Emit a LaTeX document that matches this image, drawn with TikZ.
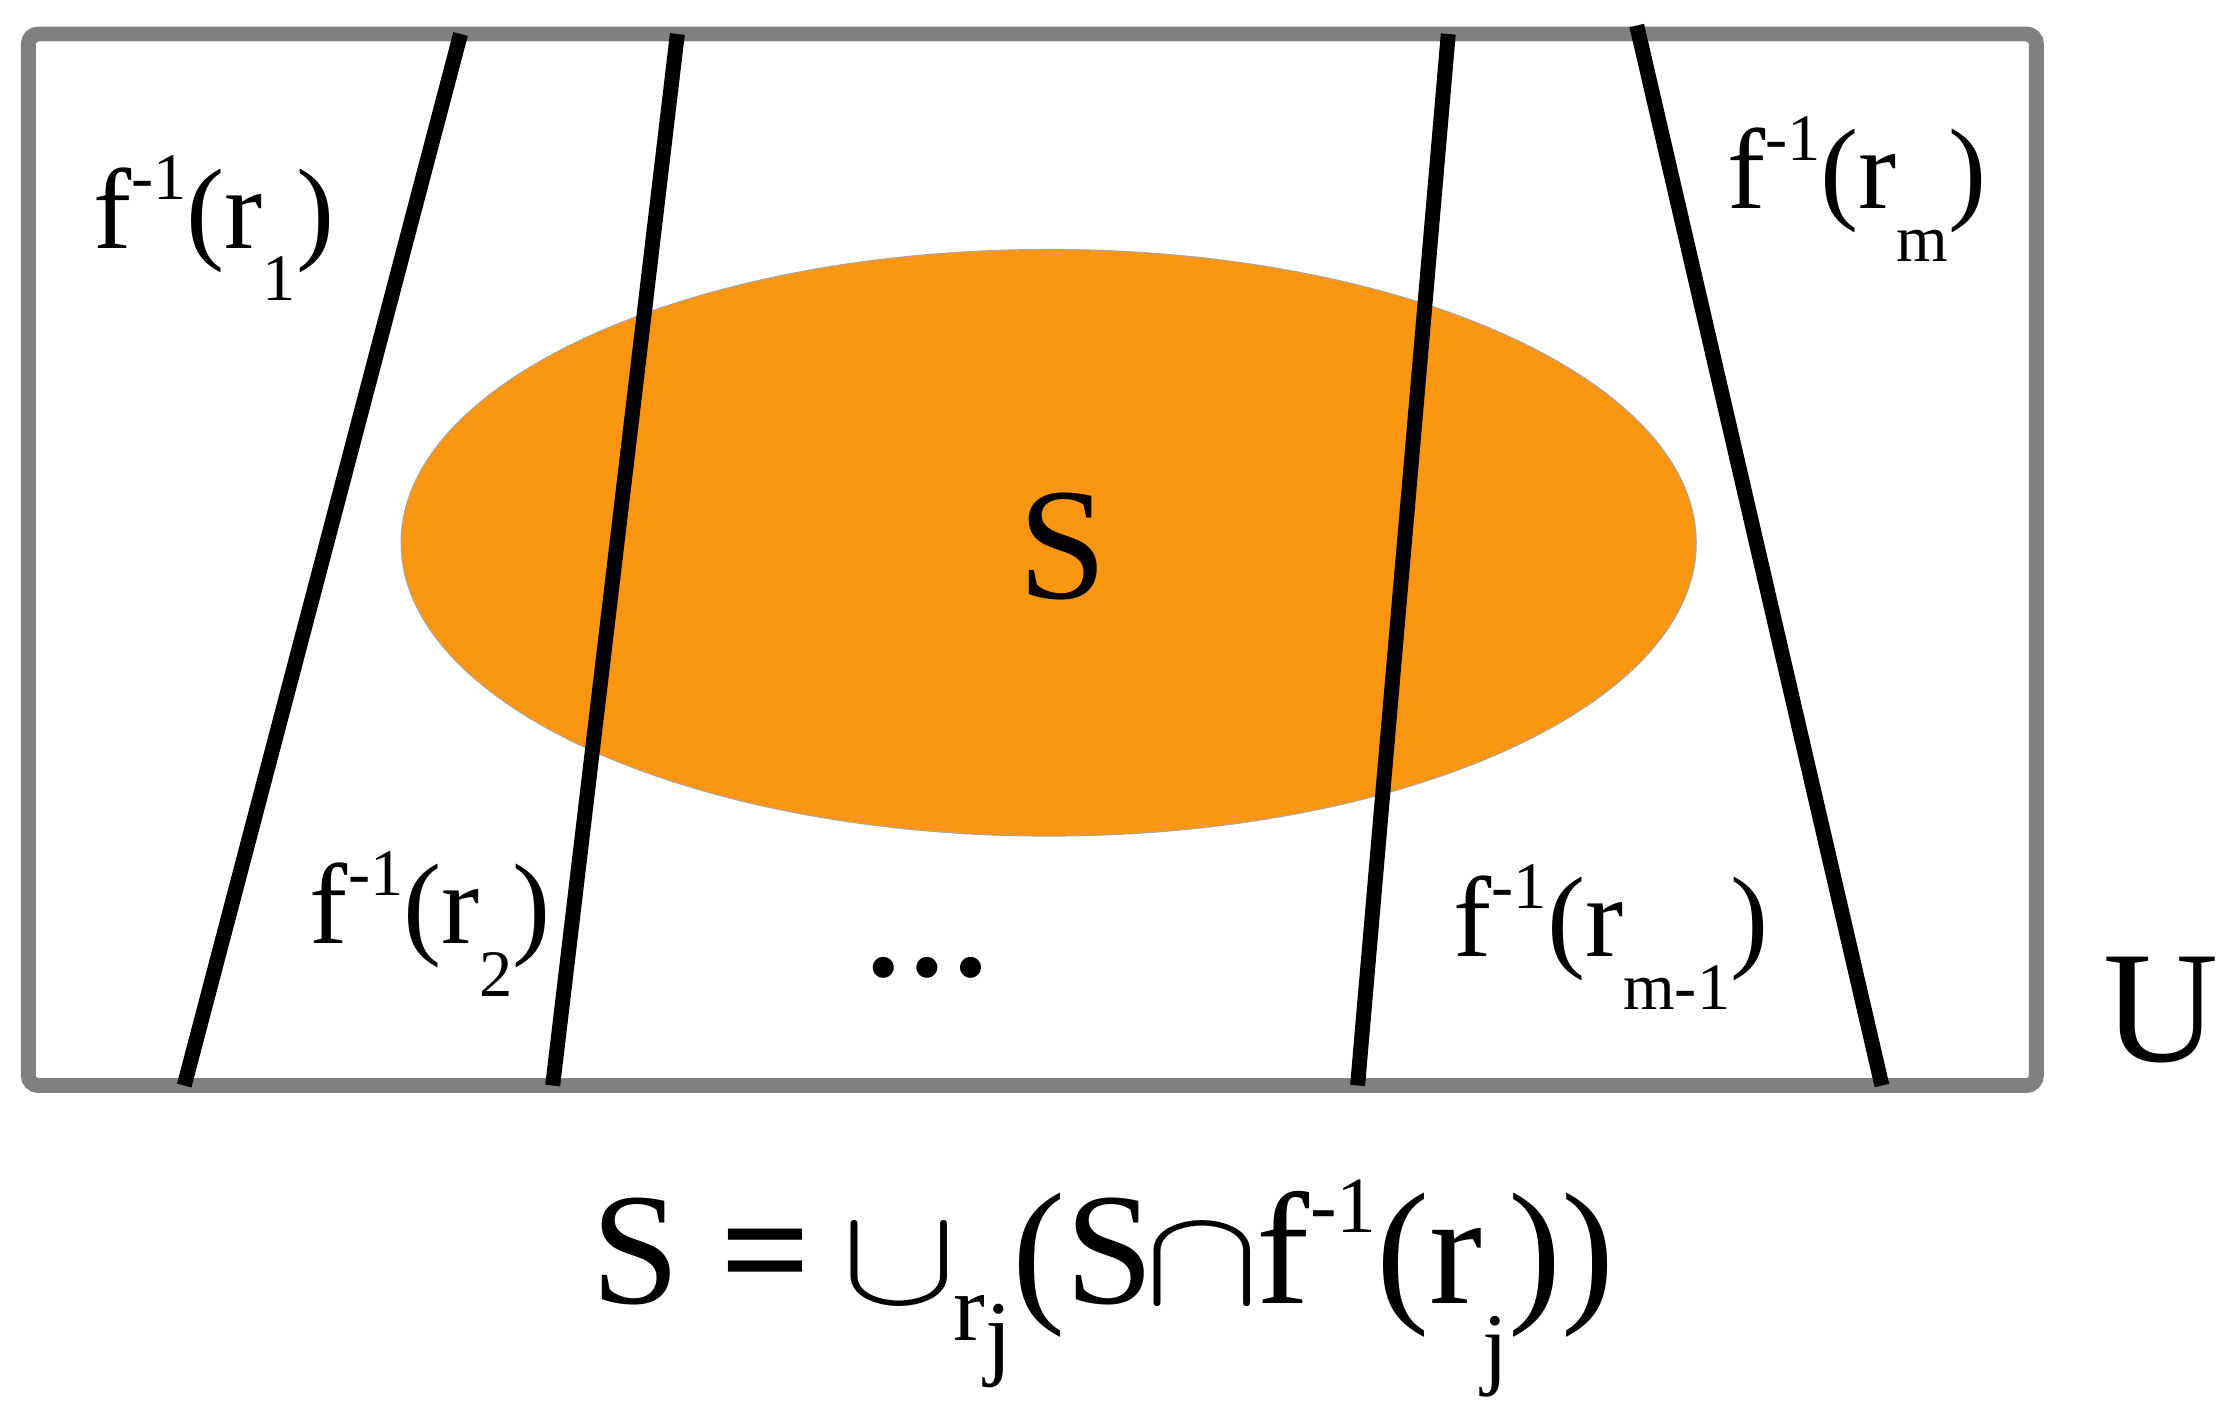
\documentclass[tikz,border=0pt]{standalone}
\usepackage{graphicx}
\usepackage{fontspec}
\setmainfont{Liberation Serif}
\usetikzlibrary{positioning}
\definecolor{setorange}{RGB}{250,150,18}
\definecolor{framegray}{RGB}{128,128,128}
\newcommand{\hi}[1]{\raisebox{0.42em}{\scalebox{0.58}{#1}}}
\newcommand{\lo}[1]{\raisebox{-0.46em}{\scalebox{0.58}{#1}}}
\newcommand{\wideop}[1]{\kern-0.06em\scalebox{1.4}[1.12]{$#1$}\kern-0.02em}

\begin{document}
\begin{tikzpicture}[x=0.1mm, y=-0.1mm,
  cut/.style={line width=3pt, black},
  lbl/.style={inner sep=0pt, anchor=base west, font=\fontsize{23}{23}\selectfont},
  big/.style={inner sep=0pt, anchor=base west, font=\fontsize{32}{32}\selectfont}]
\useasboundingbox (0,0) rectangle (1568,994);

\fill[setorange, draw=framegray!70, line width=0.2pt] (740,383) ellipse [x radius=457, y radius=207];
\draw[framegray, line width=3pt, rounded corners=2pt] (20,24) rectangle (1437,766);

\coordinate (t1) at (325,24);  \coordinate (b1) at (130,766);
\coordinate (t2) at (478,24);  \coordinate (b2) at (390,766);
\coordinate (t3) at (1022,24); \coordinate (b3) at (958,766);
\coordinate (t4) at (1155,18); \coordinate (b4) at (1328,766);

\draw[cut] (t1) -- (b1);
\draw[cut] (t2) -- (b2);
\draw[cut] (t3) -- (b3);
\draw[cut] (t4) -- (b4);

\begin{scope}[every node/.style={lbl}]
  \node (r1) at (65,175) {f\hi{-1}(r\lo{1})};
  \node (rm) at (1218,147) {f\hi{-1}(r\lo{m})};
  \node (r2) at (218,666) {f\hi{-1}(r\lo{2})};
  \node (rmm) at (1025,675) {f\hi{-1}(r\lo{m-1})};
  \node[font=\fontsize{26}{26}\selectfont\bfseries] (dots) at (608,689) {\ldots};
\end{scope}

\begin{scope}[every node/.style={big}]
  \node (s) at (718,422) {S};
  \node (u) at (1484,749) {U};
  \node (eq) at (417,920) {S {\bfseries=} \wideop{\cup}\raisebox{-0.23em}{\scalebox{0.6}{r\raisebox{-0.28em}{j}}}(S\wideop{\cap}f\raisebox{0.45em}{\scalebox{0.5}{-1}}(r\lo{j}))};
\end{scope}
\end{tikzpicture}
\end{document}
